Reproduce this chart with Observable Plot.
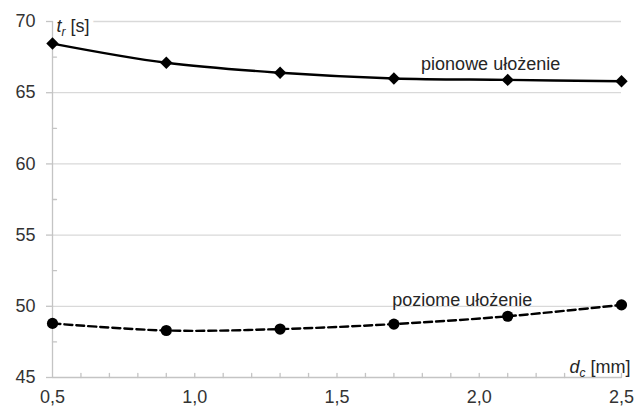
<!DOCTYPE html>
<html><head><meta charset="utf-8">
<script src="https://cdn.jsdelivr.net/npm/d3@7"></script>
<script src="https://cdn.jsdelivr.net/npm/@observablehq/plot@0.6"></script>
<style>body{margin:0;background:#fff}</style>
</head><body><div id="chart"></div>
<script>
const dc = [0.5, 0.9, 1.3, 1.7, 2.1, 2.5];
const pionowe = [68.45, 67.1, 66.4, 66.0, 65.9, 65.8];
const poziome = [48.8, 48.3, 48.4, 48.75, 49.3, 50.1];
const yTicks = [45, 50, 55, 60, 65, 70];
const yGrid = [50, 55, 60, 65, 70];
const yMinor = [47.5, 52.5, 57.5, 62.5, 67.5];
const xTicks = [0.5, 1.0, 1.5, 2.0, 2.5];
const xMinor = [0.6,0.7,0.8,0.9,1.0,1.1,1.2,1.3,1.4,1.5,1.6,1.7,1.8,1.9,2.0,2.1,2.2,2.3,2.4,2.5];
const seriesLabels = [
  {name: "pionowe ułożenie", x: 2.04, y: 67.0},
  {name: "poziome ułożenie", x: 1.94, y: 50.42}
];
const yTitle = {main: "t", sub: "r", unit: " [s]"};
const xTitle = {main: "d", sub: "c", unit: " [mm]"};

const rowsP = dc.map((x, i) => ({x, y: pionowe[i]}));
const rowsZ = dc.map((x, i) => ({x, y: poziome[i]}));

const font = "'Liberation Sans', Arial, sans-serif";
const axisColor = "#c4c4c4";
const tickShape = {draw(context, l) { context.moveTo(0, 0); context.lineTo(0, -l); }};

const plot = Plot.plot({
  width: 638, height: 407,
  marginLeft: 52, marginRight: 17, marginTop: 21, marginBottom: 30,
  style: {fontFamily: font, fontSize: "18px", color: "#333", background: "#fff"},
  x: {domain: [0.5, 2.5]},
  y: {domain: [45, 70]},
  marks: [
    Plot.ruleY(yGrid, {stroke: "#d9d9d9", strokeWidth: 1.3}),
    Plot.text([yTitle], {x: () => 0.5, y: () => 70, text: d => d.main + d.sub + d.unit, textAnchor: "start", dx: 4, dy: 5, fill: "white", stroke: "white", strokeWidth: 10, fontSize: 18, className: "axtitle-y"}),
    Plot.ruleX([0.5], {stroke: axisColor, strokeWidth: 1.3}),
    Plot.ruleY([45], {stroke: axisColor, strokeWidth: 1.3}),
    Plot.axisY({ticks: yTicks, tickSize: 6, tickPadding: 11, stroke: axisColor, strokeWidth: 1.3, tickFormat: d => String(d), label: null, fill: "#333"}),
    Plot.vector(yMinor, {x: () => 0.5, y: d => d, length: 4, rotate: 90, anchor: "start", shape: tickShape, stroke: axisColor, strokeWidth: 1.3}),
    Plot.vector(xMinor, {x: d => d, y: () => 45, length: 4, rotate: 0, anchor: "start", shape: tickShape, stroke: axisColor, strokeWidth: 1.3}),
    Plot.axisX({ticks: xTicks, tickSize: 0, tickPadding: 13, tickFormat: d => d.toFixed(1).replace(".", ","), label: null, fill: "#333"}),
    Plot.line(rowsP, {x: "x", y: "y", curve: "catmull-rom", stroke: "#000", strokeWidth: 2.4}),
    Plot.dot(rowsP, {x: "x", y: "y", symbol: "diamond2", r: 5.6, fill: "#000"}),
    Plot.line(rowsZ, {x: "x", y: "y", curve: "catmull-rom", stroke: "#000", strokeWidth: 2.4, strokeDasharray: "8,4"}),
    Plot.dot(rowsZ, {x: "x", y: "y", symbol: "circle", r: 5.6, fill: "#000"}),
    Plot.text(seriesLabels, {x: "x", y: "y", text: "name", fill: "#262626", fontSize: 18}),
    Plot.text([yTitle], {x: () => 0.5, y: () => 70, text: d => d.main + d.sub + d.unit, textAnchor: "start", dx: 4, dy: 5, fill: "#262626", fontSize: 18, className: "axtitle-y"}),
    Plot.text([xTitle], {x: () => 2.5, y: () => 45, text: d => d.main + d.sub + d.unit, textAnchor: "end", dx: 9, dy: -10, fill: "#262626", fontSize: 18, className: "axtitle-x"})
  ]
});

// render subscripts as tspans
function subscript(sel, t) {
  sel.each(function() {
    const el = d3.select(this);
    el.text(null);
    el.append("tspan").attr("font-style", "italic").text(t.main);
    el.append("tspan").attr("font-style", "italic").attr("font-size", "12px").attr("dy", 4).text(t.sub);
    el.append("tspan").attr("dy", -4).text(t.unit);
  });
}
subscript(d3.select(plot).selectAll("g.axtitle-y text"), yTitle);
subscript(d3.select(plot).selectAll("g.axtitle-x text"), xTitle);

document.getElementById("chart").append(plot);
</script>
</body></html>
